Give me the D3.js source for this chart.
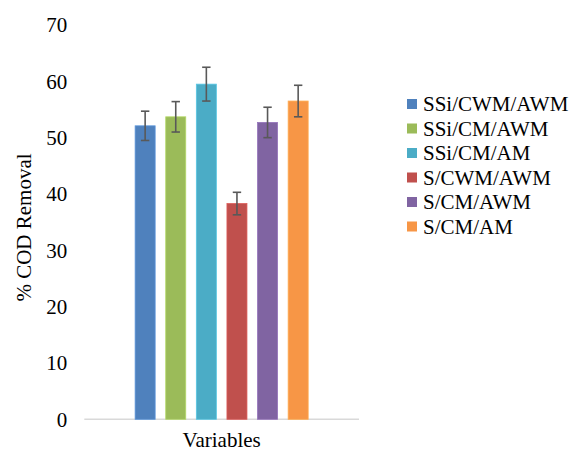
<!DOCTYPE html>
<html><head><meta charset="utf-8">
<script src="https://cdn.jsdelivr.net/npm/d3@7"></script>
<style>body{margin:0;background:#fff}svg{display:block}text{font-family:"Liberation Serif","Times New Roman",serif;fill:#000}</style>
</head><body>
<svg id="c" width="571" height="451"></svg>
<script>
const categories = ["Variables"];
const series = ["SSi/CWM/AWM","SSi/CM/AWM","SSi/CM/AM","S/CWM/AWM","S/CM/AWM","S/CM/AM"];
const values = [52.1, 53.7, 59.5, 38.3, 52.7, 56.5];
const errors = [2.6, 2.7, 3.0, 2.0, 2.7, 2.8];
const colors = ["#4F81BD","#9BBB59","#4BACC6","#C0504D","#8064A2","#F79646"];
const yTicks = [0,10,20,30,40,50,60,70];

const svg = d3.select("#c");
const fs = 21;
const y = d3.scaleLinear().domain([0,70]).range([419.3,25]);
const x0 = d3.scaleBand().domain(categories).range([84.3,359]).paddingInner(0).paddingOuter(0.248);
const x1 = d3.scaleBand().domain(series).range([0,x0.bandwidth()]).paddingInner(0.346).paddingOuter(0.173);

// axis line
svg.append("line").attr("x1",84.3).attr("x2",359).attr("y1",y(0)).attr("y2",y(0))
  .attr("stroke","#d9d9d9").attr("stroke-width",1.5);

// y tick labels
const yAxis = d3.axisLeft(y).tickValues(yTicks).tickSize(0).tickPadding(17);
const ga = svg.append("g").attr("transform","translate(84.3,0)").call(yAxis);
ga.select(".domain").remove();
ga.selectAll("text").style("font-size",fs+"px").style("font-family","Liberation Serif").attr("fill","#000");

// bars
const g = svg.append("g").attr("transform",`translate(${x0(categories[0])},0)`);
series.forEach((s,i)=>{
  g.append("rect").attr("x",x1(s)).attr("width",x1.bandwidth())
    .attr("y",y(values[i])).attr("height",y(0)-y(values[i]))
    .attr("fill",colors[i])
    .attr("stroke",d3.color(colors[i]).brighter(0.4)).attr("stroke-width",0.8);
  const cx = x1(s)+x1.bandwidth()/2;
  const eg = g.append("g").attr("stroke","#595959").attr("stroke-width",1.6);
  eg.append("line").attr("x1",cx).attr("x2",cx).attr("y1",y(values[i]+errors[i])).attr("y2",y(values[i]-errors[i]));
  [values[i]+errors[i], values[i]-errors[i]].forEach(v=>{
    eg.append("line").attr("x1",cx-4.2).attr("x2",cx+4.2).attr("y1",y(v)).attr("y2",y(v));
  });
});

// x category label
svg.append("text").attr("x",x0(categories[0])+x0.bandwidth()/2).attr("y",447)
  .attr("text-anchor","middle").style("font-size",fs+"px").text(categories[0]);

// y title
svg.append("text").attr("transform","translate(31,227.5) rotate(-90)")
  .attr("text-anchor","middle").style("font-size",fs+"px").text("% COD Removal");

// legend
const lg = svg.append("g");
series.forEach((s,i)=>{
  const cy = 104 + i*24.5;
  lg.append("rect").attr("x",407).attr("y",cy-5).attr("width",10).attr("height",10).attr("fill",colors[i]);
  lg.append("text").attr("x",423).attr("y",cy).attr("dy","0.35em").style("font-size",fs+"px").text(s);
});
</script>
</body></html>
